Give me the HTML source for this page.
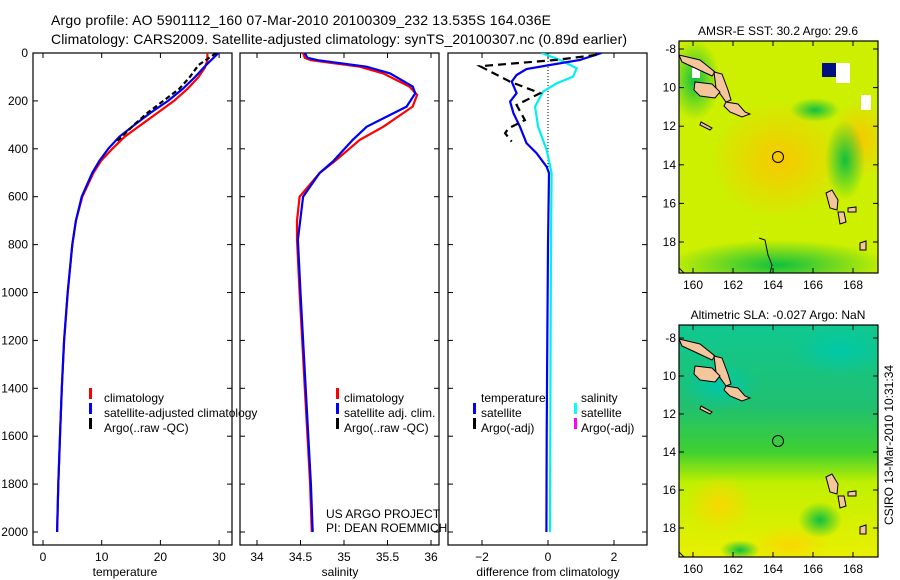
<!DOCTYPE html>
<html><head><meta charset="utf-8"><style>
body{margin:0;background:#fff}
svg{display:block;font-family:"Liberation Sans",sans-serif}
</style></head><body>
<svg id="fig" width="900" height="580" viewBox="0 0 900 580">
<defs>
<clipPath id="c1"><rect x="33" y="53" width="199" height="492"/></clipPath>
<clipPath id="c2"><rect x="240" y="53" width="199" height="492"/></clipPath>
<clipPath id="c3"><rect x="448" y="53" width="199" height="492"/></clipPath>
<clipPath id="cm1"><rect x="679" y="41" width="199" height="232"/></clipPath>
<clipPath id="cm2"><rect x="679" y="325" width="199" height="232"/></clipPath>
<radialGradient id="y1" cx="0.5" cy="0.5" r="0.5"><stop offset="0" stop-color="#f8c800"/><stop offset="1" stop-color="#f8c800" stop-opacity="0"/></radialGradient>
<radialGradient id="g1" cx="0.5" cy="0.5" r="0.5"><stop offset="0" stop-color="#10c040"/><stop offset="1" stop-color="#10c040" stop-opacity="0"/></radialGradient>
<radialGradient id="t2" cx="0.5" cy="0.5" r="0.5"><stop offset="0" stop-color="#00c8a8"/><stop offset="1" stop-color="#00c8a8" stop-opacity="0"/></radialGradient>
<radialGradient id="y2" cx="0.5" cy="0.5" r="0.5"><stop offset="0" stop-color="#f8d800"/><stop offset="1" stop-color="#f8d800" stop-opacity="0"/></radialGradient>
<linearGradient id="m2" x1="0" y1="0" x2="0" y2="1"><stop offset="0" stop-color="#10c890"/><stop offset="0.35" stop-color="#20c070"/><stop offset="0.55" stop-color="#40d030"/><stop offset="0.68" stop-color="#c0f000"/><stop offset="1" stop-color="#e8f000"/></linearGradient>
</defs>
<text x="51" y="25" font-size="14" textLength="500">Argo profile: AO 5901112_160 07-Mar-2010 20100309_232 13.535S 164.036E</text>
<text x="51" y="44" font-size="14" textLength="576">Climatology: CARS2009. Satellite-adjusted climatology: synTS_20100307.nc (0.89d earlier)</text>
<g id="plots"></g>
<g id="maps"></g>
<text transform="translate(893,445) rotate(-90)" font-size="12" text-anchor="middle">CSIRO 13-Mar-2010 10:31:34</text>
</svg>
<script>
// ---- data ----
const tempDepth = [0,50,100,150,200,250,300,350,400,450,500,600,700,800,1000,1200,1400,1600,1800,2000];
const tempSat = [29.9,27.8,25.9,23.8,21.3,18.3,15.6,13.0,11.1,9.6,8.4,6.6,5.6,5.0,4.2,3.6,3.2,2.9,2.6,2.4];
const tempClimDepth = [0,30,60,100,150,200,250,300,350,400,450,500,600,700,800,1000,1200,1400,1600,1800,2000];
const tempClim = [28.0,28.0,27.6,26.5,24.6,22.3,19.5,16.7,13.9,11.8,9.9,8.6,6.7,5.6,5.0,4.2,3.6,3.2,2.9,2.6,2.4];
const argoTempDepth = [0,50,100,150,200,250,300,350,370];
const argoTemp = [29.5,26.5,25.0,23.2,20.5,17.8,15.5,13.4,12.5];
const salDepth = [0,20,30,57,85,140,168,224,308,363,450,501,600,780,1000,1200,1400,1600,1800,2000];
const salSat = [34.55,34.58,34.70,35.26,35.53,35.79,35.82,35.72,35.26,35.10,34.88,34.72,34.53,34.47,34.50,34.53,34.56,34.59,34.62,34.64];
const salClimDepth = [0,20,30,57,85,140,175,224,308,363,450,501,600,700,780,1000,1200,1400,1600,1800,2000];
const salClim = [34.53,34.55,34.62,35.18,35.45,35.75,35.84,35.79,35.45,35.18,34.90,34.72,34.49,34.46,34.46,34.49,34.52,34.55,34.58,34.61,34.63];
const diffTDepth = [0,29,50,67,92,120,168,203,251,308,376,418,475,502,800,1200,1600,2000];
const diffTSat = [1.62,0.97,0.06,-0.65,-0.95,-1.1,-0.95,-1.15,-1.05,-0.85,-0.65,-0.35,-0.04,0.03,0.0,-0.02,-0.04,-0.05];
const diffSDepth = [0,29,64,99,127,161,224,308,405,502,800,1200,1600,2000];
const diffSSat = [-0.2,0.36,0.87,0.76,0.26,-0.15,-0.39,-0.30,-0.04,0.11,0.09,0.08,0.07,0.06];
const argoDiffDepth = [8,29,55,120,168,217,280,315,335,370];
const argoDiffT = [1.47,0.26,-2.06,-1.15,-0.24,-0.95,-0.70,-1.2,-1.3,-1.1];
const depthTicks = [0,200,400,600,800,1000,1200,1400,1600,1800,2000];
const tempTicks = [0,10,20,30];
const salTicks = [34,34.5,35,35.5,36];
const diffTicks = [-2,0,2];
const lonTicks = [160,162,164,166,168];
const latTicks = [-8,-10,-12,-14,-16,-18];

const NS='http://www.w3.org/2000/svg';
const plots=document.getElementById('plots');
function mk(tag,attrs,parent){const e=document.createElementNS(NS,tag);for(const k in attrs)e.setAttribute(k,attrs[k]);(parent||plots).appendChild(e);return e;}
const yD = d => 53 + d*0.2395;
const xT = t => 43 + t*5.87;
const xS = s => 257 + (s-34)*87;
const xDf = v => 548 + v*33;

function frame(x0,name){
  const r=mk('rect',{x:x0,y:53,width:199,height:492,fill:'none',stroke:'#000','stroke-width':1.2});
  
  
  depthTicks.forEach(d=>{mk('line',{x1:x0,x2:x0+5,y1:yD(d),y2:yD(d),stroke:'#000'});mk('line',{x1:x0+194,x2:x0+199,y1:yD(d),y2:yD(d),stroke:'#000'});});
}
function xticks(ticks,fx,labels){
  ticks.forEach((t,i)=>{const x=fx(t);
    mk('line',{x1:x,x2:x,y1:545,y2:540,stroke:'#000'});mk('line',{x1:x,x2:x,y1:53,y2:58,stroke:'#000'});
    const tx=mk('text',{x:x,y:561,'font-size':12,'text-anchor':'middle'});tx.textContent=labels?labels[i]:t;
    
    
  });
}
function line(ds,vs,fx,color,clip,name,extra){
  const p=ds.map((d,i)=>(i?'L':'M')+fx(vs[i]).toFixed(1)+','+yD(d).toFixed(1)).join('');
  const e=mk('path',Object.assign({d:p,fill:'none',stroke:color,'stroke-width':2.2,'clip-path':'url(#'+clip+')'},extra||{}));
  
  
}
function txt(x,y,s,name,fs,anchor){const t=mk('text',{x:x,y:y,'font-size':fs||12,'text-anchor':anchor||'start'});t.textContent=s;
  
  return t;}
function mark(x,y,color){mk('rect',{x:x,y:y-10,width:3,height:11,fill:color});}

// panel 1
frame(33,'temperature-panel');
depthTicks.forEach(d=>{txt(28,yD(d)+4,d,'y-tick-label',12,'end');});
xticks(tempTicks,xT);
line(tempClimDepth,tempClim,xT,'#f00','c1','temp-climatology-line');
line(tempDepth,tempSat,xT,'#0000f0','c1','temp-satellite-line');
line(argoTempDepth,argoTemp,xT,'#000','c1','temp-argo-line',{'stroke-dasharray':'5,3'});
txt(125,576,'temperature','x-axis-title-temperature',12,'middle');
mark(89,398,'#f00');txt(104,402,'climatology','legend-climatology');
mark(89,413,'#00f');txt(104,417,'satellite-adjusted climatology','legend-satellite');
mark(89,428,'#000');txt(104,432,'Argo(..raw -QC)','legend-argo');
// panel 2
frame(240,'salinity-panel');
xticks(salTicks,xS);
line(salClimDepth,salClim,xS,'#f00','c2','sal-climatology-line');
line(salDepth,salSat,xS,'#0000f0','c2','sal-satellite-line');
txt(340,576,'salinity','x-axis-title-salinity',12,'middle');
mark(336,398,'#f00');txt(344,402,'climatology','legend-climatology-2');
mark(336,413,'#00f');txt(344,417,'satellite adj. clim.','legend-satellite-2');
mark(336,428,'#000');txt(344,432,'Argo(..raw -QC)','legend-argo-2');
txt(326,518,'US ARGO PROJECT','credit-project');
txt(326,532,'PI: DEAN ROEMMICH','credit-pi');
// panel 3
frame(448,'difference-panel');
xticks(diffTicks,xDf,['\u22122','0','2']);
mk('line',{x1:548,x2:548,y1:55,y2:170,stroke:'#000','stroke-dasharray':'1,2'});
line(diffSDepth,diffSSat,xDf,'#00f0f0','c3','sal-diff-satellite-line');
line(diffTDepth,diffTSat,xDf,'#0000f0','c3','temp-diff-satellite-line');
line(argoDiffDepth,argoDiffT,xDf,'#000','c3','temp-diff-argo-line',{'stroke-dasharray':'8,5'});
txt(548,576,'difference from climatology','x-axis-title-difference',12,'middle');
txt(481,402,'temperature','legend-temperature-header');
mark(473,413,'#00f');txt(481,417,'satellite','legend-temp-satellite');
mark(473,428,'#000');txt(481,432,'Argo(-adj)','legend-temp-argo');
txt(581,402,'salinity','legend-salinity-header');
mark(574,413,'#0ff');txt(581,417,'satellite','legend-sal-satellite');
mark(574,428,'#f0f');txt(581,432,'Argo(-adj)','legend-sal-argo');

// ---- maps ----
const maps=document.getElementById('maps');
function mm(tag,attrs){return mk(tag,attrs,maps);}
function mapAxes(y0,lat8y,degy,name,title){
  const r=mm('rect',{x:679,y:y0,width:199,height:232,fill:'none',stroke:'#000','stroke-width':1.2});
  
  
  const lx=l=>693+(l-160)*20;
  lonTicks.forEach(l=>{const x=lx(l);mm('line',{x1:x,x2:x,y1:y0+232,y2:y0+227,stroke:'#000'});mm('line',{x1:x,x2:x,y1:y0,y2:y0+5,stroke:'#000'});
    const t=mm('text',{x:x,y:y0+248,'font-size':12,'text-anchor':'middle'});t.textContent=l;
    
    });
  latTicks.forEach(l=>{const y=lat8y+(-8-l)*degy;mm('line',{x1:679,x2:684,y1:y,y2:y,stroke:'#000'});mm('line',{x1:873,x2:878,y1:y,y2:y,stroke:'#000'});
    const t=mm('text',{x:676,y:y+4,'font-size':12,'text-anchor':'end'});t.textContent=l===-8?'-8':String(-l);
    
    });
  const t=mm('text',{x:778,y:y0-6,'font-size':12,'text-anchor':'middle'});t.textContent=title;
  
  
}
function islands(dy,clip){
  const g=mm('g',{'clip-path':'url(#'+clip+')',fill:'#f5c59c',stroke:'#000','stroke-width':1});
  const shapes=['M679,55 L700,60 L715,72 L712,76 L695,68 L682,62Z',
    'M714,72 L722,74 L728,90 L731,100 L726,102 L716,88Z',
    'M695,82 L712,84 L720,92 L715,98 L700,96 L694,90Z',
    'M726,102 L738,104 L745,112 L750,114 L742,117 L730,112 L724,106Z',
    'M701,122 L712,128 L710,130 L700,125Z',
    'M826,193 L832,190 L838,200 L837,210 L830,208Z',
    'M838,212 L844,212 L846,222 L840,224Z',
    'M860,243 L866,241 L866,250 L860,250Z',
    'M848,208 L856,207 L856,212 L848,212Z'];
  shapes.forEach(s=>{const p=document.createElementNS(NS,'path');p.setAttribute('d',s);p.setAttribute('transform','translate(0,'+dy+')');g.appendChild(p);});
  mm('path',{d:'M759,238 L765,240 L768,255 L772,265 L770,273',fill:'none',stroke:'#000',transform:'translate(0,'+dy+')','clip-path':'url(#'+clip+')'});
  mm('path',{d:'M679,268 L684,273',fill:'none',stroke:'#000',transform:'translate(0,'+dy+')'});
}
// map 1 SST
mm('rect',{x:679,y:41,width:199,height:232,fill:'#ccf000','clip-path':'url(#cm1)'});
mm('ellipse',{cx:780,cy:160,rx:70,ry:60,fill:'url(#y1)','clip-path':'url(#cm1)'});
mm('ellipse',{cx:860,cy:140,rx:30,ry:40,fill:'url(#y1)','clip-path':'url(#cm1)'});
mm('ellipse',{cx:778,cy:265,rx:110,ry:25,fill:'url(#g1)','clip-path':'url(#cm1)'});
mm('ellipse',{cx:695,cy:80,rx:25,ry:40,fill:'url(#g1)','clip-path':'url(#cm1)'});
mm('ellipse',{cx:845,cy:160,rx:20,ry:40,fill:'url(#g1)','clip-path':'url(#cm1)'});
mm('ellipse',{cx:815,cy:110,rx:25,ry:12,fill:'url(#g1)','clip-path':'url(#cm1)'});
mm('rect',{x:822,y:63,width:14,height:14,fill:'#001080'});
mm('rect',{x:836,y:63,width:14,height:20,fill:'#fff'});
mm('rect',{x:861,y:95,width:10,height:15,fill:'#fff'});
mm('rect',{x:692,y:68,width:8,height:10,fill:'#fff'});
islands(0,'cm1');
mm('circle',{cx:778,cy:157,r:5.5,fill:'none',stroke:'#000'});
mapAxes(41,49,19.3,'sst-map','AMSR-E SST: 30.2 Argo: 29.6');
// map 2 SLA
mm('rect',{x:679,y:325,width:199,height:232,fill:'url(#m2)','clip-path':'url(#cm2)'});
mm('ellipse',{cx:720,cy:385,rx:40,ry:25,fill:'url(#t2)','clip-path':'url(#cm2)'});
mm('ellipse',{cx:840,cy:350,rx:50,ry:25,fill:'url(#t2)','clip-path':'url(#cm2)'});
mm('ellipse',{cx:720,cy:505,rx:35,ry:30,fill:'url(#y2)','clip-path':'url(#cm2)'});
mm('ellipse',{cx:790,cy:545,rx:40,ry:20,fill:'url(#y2)','clip-path':'url(#cm2)'});
mm('ellipse',{cx:820,cy:520,rx:22,ry:18,fill:'url(#g1)','clip-path':'url(#cm2)'});
mm('ellipse',{cx:740,cy:550,rx:20,ry:10,fill:'url(#g1)','clip-path':'url(#cm2)'});
islands(284,'cm2');
mm('circle',{cx:778,cy:441,r:5.5,fill:'none',stroke:'#000'});
mapAxes(325,338,19,'sla-map','Altimetric SLA: -0.027 Argo: NaN');
</script>
</body></html>
